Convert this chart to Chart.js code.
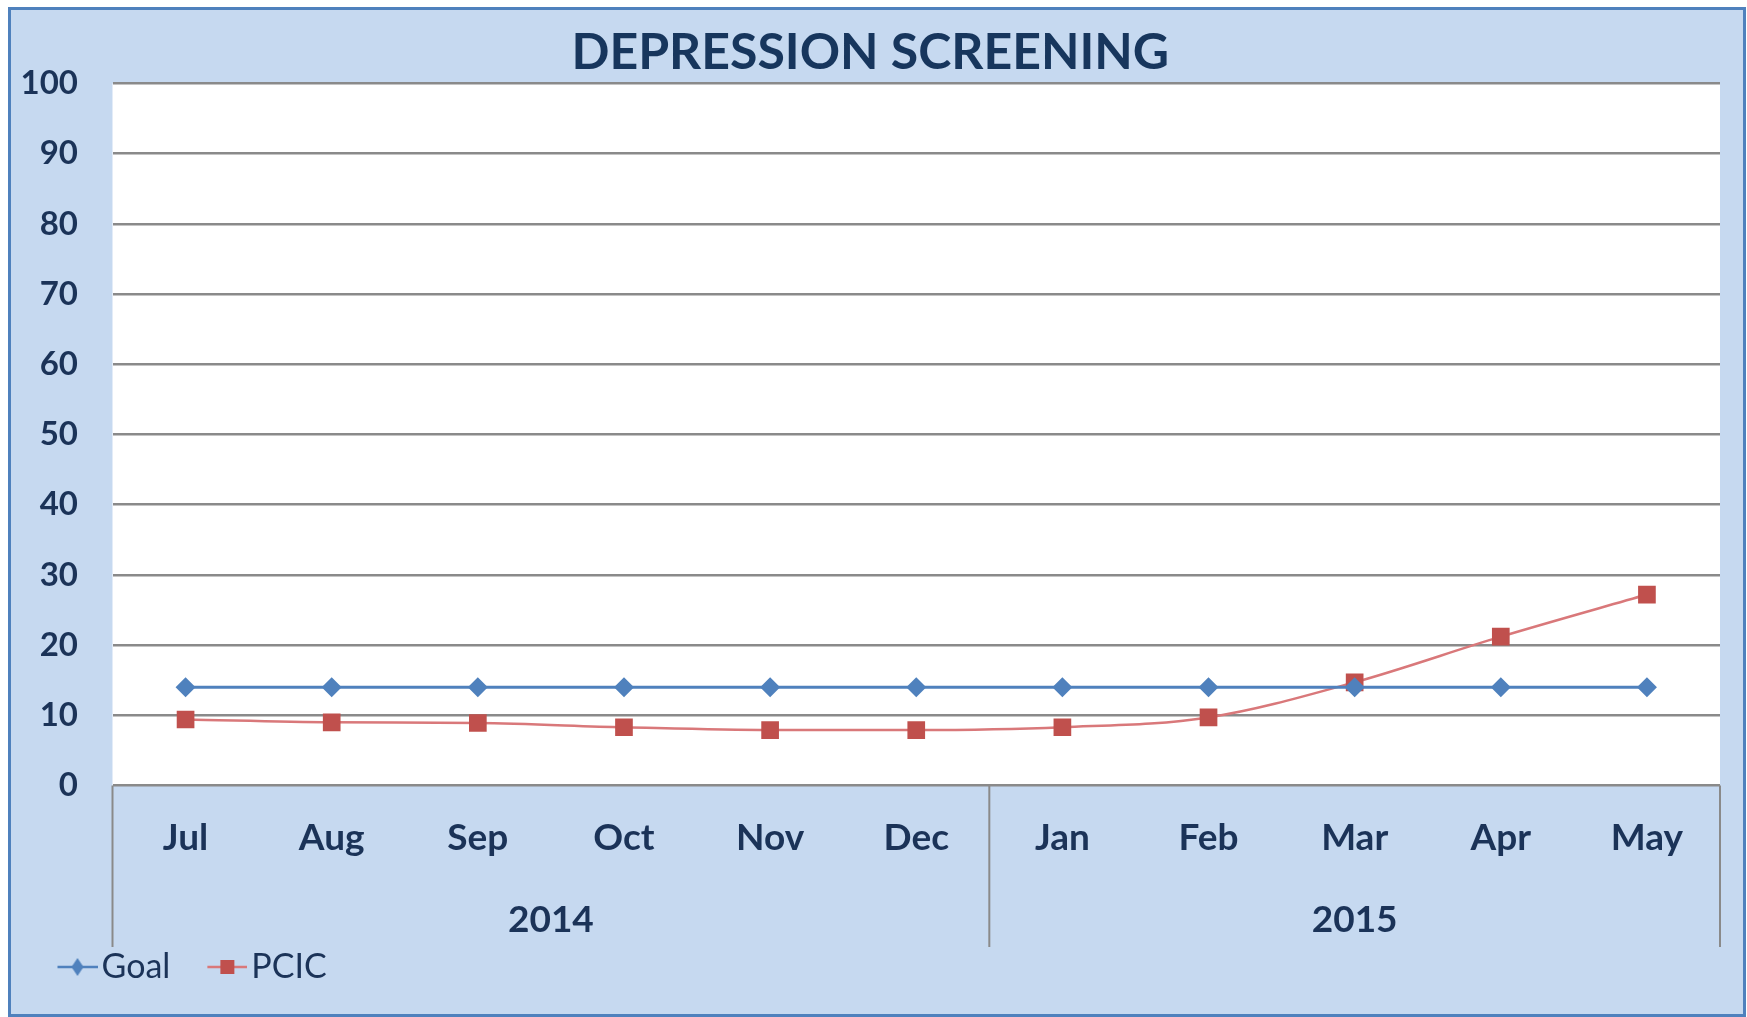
<!DOCTYPE html>
<html>
<head>
<meta charset="utf-8">
<title>Depression Screening</title>
<script src="https://cdn.jsdelivr.net/npm/chart.js@4.4.0/dist/chart.umd.min.js"></script>
<style>
  html, body { margin: 0; padding: 0; background: #ffffff; }
  #wrap { width: 1747px; height: 1017px; position: relative; }
</style>
</head>
<body>
<div id="wrap"><canvas id="screeningChart"></canvas></div>
<script>
// dados do gráfico
const months = ["Jul", "Aug", "Sep", "Oct", "Nov", "Dec", "Jan", "Feb", "Mar", "Apr", "May"];
const years = ["2014", "2015"];
const monthsPerYear = [6, 5];
const goalValues = [14, 14, 14, 14, 14, 14, 14, 14, 14, 14, 14];
const pcicValues = [9.4, 9.0, 8.9, 8.3, 7.9, 7.9, 8.3, 9.7, 14.7, 21.2, 27.2];
const yTicks = [0, 10, 20, 30, 40, 50, 60, 70, 80, 90, 100];

const navy = "#1B3358";
const goalColor = "#4F81BD";
const pcicColor = "#C0504D";
const pcicLine = "#D9787A";

// ícones da legenda (linha + marcador, estilo Excel)
function legendIcon(color, lineColor, shape) {
  const c = document.createElement("canvas");
  c.width = 82;
  c.height = 26;
  const ctx = c.getContext("2d");
  ctx.strokeStyle = lineColor;
  ctx.lineWidth = 2.5;
  ctx.beginPath();
  ctx.moveTo(42, 13);
  ctx.lineTo(82, 13);
  ctx.stroke();
  ctx.fillStyle = color;
  ctx.beginPath();
  if (shape === "diamond") {
    ctx.moveTo(62, 4);
    ctx.lineTo(68, 13);
    ctx.lineTo(62, 22);
    ctx.lineTo(56, 13);
  } else {
    ctx.rect(55, 6, 14, 14);
  }
  ctx.closePath();
  ctx.fill();
  return c;
}
const legendIcons = [
  legendIcon(goalColor, goalColor, "diamond"),
  legendIcon(pcicColor, pcicLine, "square"),
];

// fundo, moldura, separadores e anos do eixo de categorias
const framePlugin = {
  id: "frame",
  beforeDraw(chart) {
    const { ctx, chartArea } = chart;
    ctx.save();
    ctx.fillStyle = "#ffffff";
    ctx.fillRect(0, 0, chart.width, chart.height);
    ctx.fillStyle = "#C6D9F0";
    ctx.fillRect(9.5, 8.5, chart.width - 12, chart.height - 10);
    ctx.strokeStyle = "#4F81BD";
    ctx.lineWidth = 3;
    ctx.strokeRect(9.5, 8.5, chart.width - 12, chart.height - 10);
    ctx.fillStyle = "#ffffff";
    ctx.fillRect(chartArea.left, chartArea.top, chartArea.right - chartArea.left, chartArea.bottom - chartArea.top);
    ctx.restore();
  },
  afterDraw(chart) {
    const { ctx, chartArea } = chart;
    const xScale = chart.scales.x;
    const bounds = [chartArea.left];
    let idx = 0;
    monthsPerYear.forEach((n, i) => {
      idx += n;
      if (i < monthsPerYear.length - 1) {
        bounds.push((xScale.getPixelForValue(idx - 1) + xScale.getPixelForValue(idx)) / 2);
      }
    });
    bounds.push(chartArea.right);

    ctx.save();
    ctx.strokeStyle = "#8A8A8A";
    ctx.lineWidth = 2;
    bounds.forEach((bx) => {
      ctx.beginPath();
      ctx.moveTo(bx, chartArea.bottom);
      ctx.lineTo(bx, 947);
      ctx.stroke();
    });
    ctx.fillStyle = navy;
    ctx.font = "bold 37px Lato";
    ctx.textAlign = "center";
    ctx.textBaseline = "middle";
    years.forEach((yr, i) => {
      ctx.fillText(yr, (bounds[i] + bounds[i + 1]) / 2, 920);
    });
    ctx.restore();
  },
};

const ctx = document.getElementById("screeningChart").getContext("2d");
new Chart(ctx, {
  type: "line",
  data: {
    labels: months,
    datasets: [
      {
        label: "Goal",
        data: goalValues,
        borderColor: goalColor,
        backgroundColor: goalColor,
        borderWidth: 3,
        pointStyle: "rectRot",
        pointRadius: 10,
        pointBorderWidth: 0,
        tension: 0,
      },
      {
        label: "PCIC",
        data: pcicValues,
        borderColor: pcicLine,
        backgroundColor: pcicColor,
        borderWidth: 2.5,
        pointStyle: "rect",
        pointRadius: 12.5,
        pointBorderWidth: 0,
        cubicInterpolationMode: "monotone",
      },
    ],
  },
  options: {
    responsive: true,
    maintainAspectRatio: false,
    animation: false,
    layout: { padding: { left: 20.5, right: 27, top: 0, bottom: 23 } },
    scales: {
      x: {
        offset: true,
        grid: { display: false, drawTicks: false },
        border: { display: false },
        ticks: {
          color: navy,
          padding: 30,
          font: { family: "Lato", size: 37, weight: "bold" },
        },
        afterFit(scale) {
          scale.height = 156.5;
        },
      },
      y: {
        min: 0,
        max: 100,
        afterBuildTicks(scale) {
          scale.ticks = yTicks.map((v) => ({ value: v }));
        },
        grid: { color: "#8A8A8A", lineWidth: 2.5, drawTicks: false },
        border: { display: false },
        ticks: {
          color: navy,
          padding: 34.5,
          font: { family: "Lato", size: 33, weight: "bold" },
        },
        afterFit(scale) {
          scale.width = 92;
        },
      },
    },
    plugins: {
      title: {
        display: true,
        text: "DEPRESSION SCREENING",
        color: "#17365D",
        font: { family: "Lato", size: 50, weight: "bold" },
        padding: { top: 23, bottom: 0.5 },
      },
      legend: {
        display: true,
        position: "bottom",
        align: "start",
        labels: {
          color: navy,
          font: { family: "Lato", size: 34 },
          usePointStyle: true,
          pointStyleWidth: 56,
          padding: 8,
          generateLabels(chart) {
            return chart.data.datasets.map((ds, i) => ({
              text: ds.label,
              pointStyle: legendIcons[i],
              fillStyle: ds.backgroundColor,
              strokeStyle: ds.borderColor,
              lineWidth: 0,
              datasetIndex: i,
              hidden: false,
              fontColor: navy,
            }));
          },
        },
      },
      tooltip: { enabled: false },
    },
  },
  plugins: [framePlugin],
});
</script>
</body>
</html>
